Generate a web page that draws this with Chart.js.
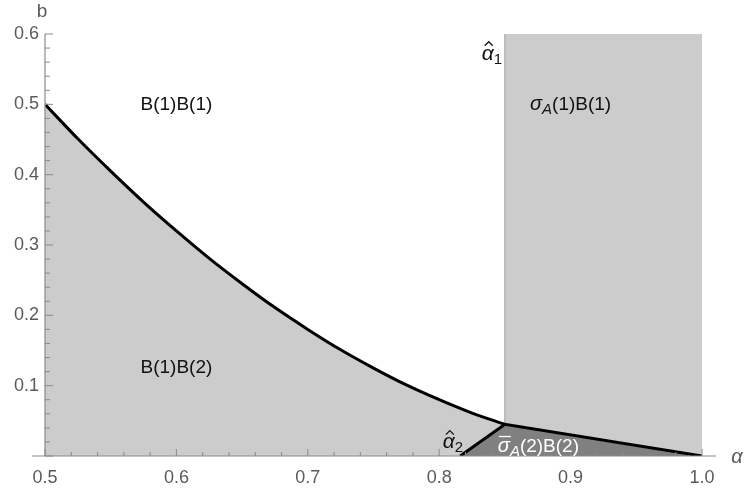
<!DOCTYPE html>
<html>
<head>
<meta charset="utf-8">
<script src="https://cdn.jsdelivr.net/npm/chart.js@4/dist/chart.umd.min.js"></script>
<style>
html,body{margin:0;padding:0;background:#fff;}
canvas{display:block;}
</style>
</head>
<body>
<canvas id="c" width="744" height="491"></canvas>
<script>
// boundary curve between B(1)B(1) and B(1)B(2) (alpha from 0.5 to alpha_hat_1)
const curveAlpha = [0.5, 0.525, 0.55, 0.575, 0.6, 0.625, 0.65, 0.675, 0.7, 0.725, 0.75, 0.775, 0.8, 0.825, 0.85];
const curveB     = [0.5, 0.451, 0.405, 0.361, 0.32, 0.281, 0.245, 0.211, 0.18, 0.151, 0.125, 0.101, 0.08, 0.061, 0.045];
// dark region sigma_bar_A(2)B(2): alpha_hat_2 line and lower boundary to alpha = 1
const darkAlpha = [0.816, 0.85, 1.0];
const darkB     = [0, 0.045, 0];
// light rectangle sigma_A(1)B(1)
const rectAlpha = [0.85, 1.0];
const rectB     = [0.6, 0.6];
// alpha_hat_1 vertical line
const vlineAlpha = [0.85, 0.85];
const vlineB     = [0.045, 0.6];
// ticks
const xTicks = [0.5, 0.6, 0.7, 0.8, 0.9, 1.0];
const yTicks = [0, 0.1, 0.2, 0.3, 0.4, 0.5, 0.6];

const pts = (xs, ys) => xs.map((x, i) => ({x: x, y: ys[i]}));

const LIGHT = '#cccccc', DARK = '#808080';
const AXIS = '#8a8a8a', LABEL = '#5a5a5a';

const overlay = {
  id: 'overlay',
  afterDatasetsDraw(chart) {
    const ctx = chart.ctx;
    const xs = chart.scales.x, ys = chart.scales.y;
    const X = v => xs.getPixelForValue(v), Y = v => ys.getPixelForValue(v);
    ctx.save();
    // axes
    ctx.strokeStyle = AXIS;
    ctx.lineWidth = 1.2;
    ctx.beginPath();
    ctx.moveTo(X(0.5) - 13, Y(0)); ctx.lineTo(X(1.0) + 14, Y(0));
    ctx.moveTo(X(0.5), Y(0)); ctx.lineTo(X(0.5), Y(0.6));
    ctx.stroke();
    // ticks
    ctx.lineWidth = 1;
    ctx.beginPath();
    for (let i = 0; i <= 25; i++) {
      const v = 0.5 + i * 0.02;
      const major = i % 5 === 0;
      const len = major ? 7 : 4;
      ctx.moveTo(X(v), Y(0)); ctx.lineTo(X(v), Y(0) - len);
    }
    for (let i = 0; i <= 30; i++) {
      const v = i * 0.02;
      const major = i % 5 === 0;
      const len = major ? 8 : 5;
      ctx.moveTo(X(0.5), Y(v)); ctx.lineTo(X(0.5) + len, Y(v));
    }
    ctx.stroke();

    // axis names
    ctx.fillStyle = LABEL;
    ctx.textBaseline = 'middle';
    ctx.textAlign = 'center';
    ctx.font = '19px "Liberation Sans", Arial, sans-serif';
    ctx.fillText('b', X(0.5) - 3, 12);
    ctx.font = 'italic 20px "Liberation Sans", Arial, sans-serif';
    ctx.fillText('α', X(1.0) + 35, Y(0) + 1);

    // region labels
    const F = s => s + 'px "Liberation Sans", Arial, sans-serif';
    ctx.fillStyle = '#111';
    ctx.font = F(19);
    ctx.fillText('B(1)B(1)', X(0.6), Y(0.5));
    ctx.fillText('B(1)B(2)', X(0.6), Y(0.125));

    function rich(pieces, cx, cy, color) {
      let w = 0;
      pieces.forEach(p => { ctx.font = p[1]; p.w = ctx.measureText(p[0]).width; w += p.w; });
      let x = cx - w / 2;
      ctx.textAlign = 'left';
      ctx.fillStyle = color;
      ctx.strokeStyle = color;
      pieces.forEach(p => {
        ctx.font = p[1];
        ctx.fillText(p[0], x, cy + (p[2] || 0));
        if (p[3] === 'hat') {
          ctx.lineWidth = 1.3;
          ctx.beginPath();
          const mx = x + p.w / 2 + 1;
          ctx.moveTo(mx - 4, cy - 8); ctx.lineTo(mx, cy - 12); ctx.lineTo(mx + 4, cy - 8);
          ctx.stroke();
        }
        if (p[3] === 'bar') {
          ctx.lineWidth = 1.3;
          ctx.beginPath();
          ctx.moveTo(x + 1, cy - 10); ctx.lineTo(x + p.w + 1, cy - 10);
          ctx.stroke();
        }
        x += p.w;
      });
      ctx.textAlign = 'center';
    }
    const IT = s => 'italic ' + s + 'px "Liberation Sans", Arial, sans-serif';
    rich([['σ', IT(20)], ['A', IT(15), 5], ['(1)B(1)', F(19)]], X(0.9), Y(0.5), '#111');
    rich([['α', IT(21), 0, 'hat'], ['1', F(15), 6]], X(0.85) - 13, Y(0.572), '#111');
    rich([['α', IT(21), 0, 'hat'], ['2', F(15), 5]], X(0.8105), Y(0.019), '#111');
    rich([['σ', IT(20), 0, 'bar'], ['A', IT(15), 5], ['(2)B(2)', F(19)]], X(0.8755), Y(0.0135), '#ffffff');
    ctx.restore();
  }
};

new Chart(document.getElementById('c'), {
  type: 'scatter',
  data: {
    datasets: [
      { // boundary curve line (top)
        data: pts(curveAlpha, curveB), showLine: true, fill: false,
        borderColor: '#000', borderWidth: 3,
        pointRadius: 0, cubicInterpolationMode: 'monotone', order: 0
      },
      { // dark region
        data: pts(darkAlpha, darkB), showLine: true, fill: 'origin',
        backgroundColor: DARK, borderColor: '#000', borderWidth: 3,
        pointRadius: 0, tension: 0, order: 1
      },
      { // fill under boundary curve
        data: pts(curveAlpha, curveB), showLine: true, fill: 'origin',
        backgroundColor: LIGHT, borderColor: LIGHT, borderWidth: 0,
        pointRadius: 0, cubicInterpolationMode: 'monotone', order: 2
      },
      { // alpha_hat_1 line
        data: pts(vlineAlpha, vlineB), showLine: true, fill: false,
        borderColor: '#b2b2b2', borderWidth: 1.5, pointRadius: 0, order: 3
      },
      { // light rectangle
        data: pts(rectAlpha, rectB), showLine: true, fill: 'origin',
        backgroundColor: LIGHT, borderColor: LIGHT, borderWidth: 0,
        pointRadius: 0, order: 4
      }
    ]
  },
  options: {
    responsive: false,
    animation: false,
    devicePixelRatio: 1,
    layout: { padding: { top: 34, right: 42, left: 0, bottom: 0 } },
    plugins: { legend: { display: false }, tooltip: { enabled: false } },
    scales: {
      x: {
        type: 'linear', min: 0.5, max: 1.0,
        grid: { display: false, drawTicks: false }, border: { display: false },
        afterBuildTicks: s => { s.ticks = xTicks.map(v => ({value: v})); },
        afterFit: s => { s.height = 35; },
        ticks: {
          padding: 11, color: LABEL, maxRotation: 0, autoSkip: false,
          font: { family: '"Liberation Sans", Arial, sans-serif', size: 18 },
          callback: v => Number(v).toFixed(1)
        }
      },
      y: {
        type: 'linear', min: 0, max: 0.6,
        grid: { display: false, drawTicks: false }, border: { display: false },
        afterBuildTicks: s => { s.ticks = yTicks.map(v => ({value: v})); },
        afterFit: s => { s.width = 45; },
        ticks: {
          padding: 6, color: LABEL, autoSkip: false,
          font: { family: '"Liberation Sans", Arial, sans-serif', size: 18 },
          callback: v => v === 0 ? '' : Number(v).toFixed(1)
        }
      }
    }
  },
  plugins: [overlay]
});
</script>
</body>
</html>
